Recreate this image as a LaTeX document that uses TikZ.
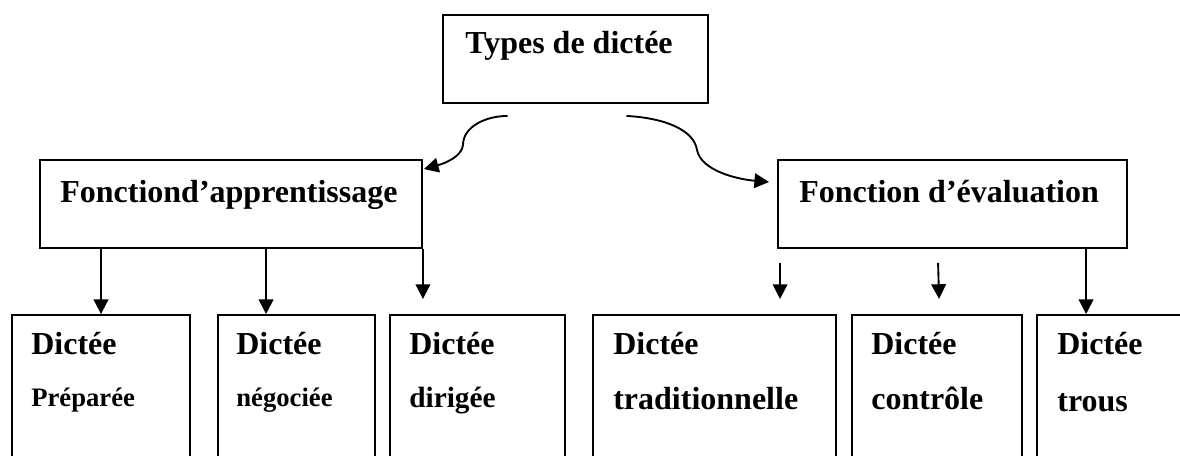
\documentclass[tikz,border=0pt]{standalone}
\usepackage{fontspec}
\setmainfont{Liberation Serif}
\usetikzlibrary{arrows.meta,calc,fit}
\begin{document}
\begin{tikzpicture}[x=0.75pt,y=-0.75pt,
  box/.style={draw,line width=1.4pt,rectangle,inner sep=0pt},
  arr/.style={line width=1.4pt,-{Triangle[length=11pt,width=11pt]}},
  big/.style={font=\bfseries\fontsize{24}{28}\selectfont,inner sep=0pt,anchor=base west},
  mid/.style={font=\bfseries\fontsize{22}{26}\selectfont,inner sep=0pt,anchor=base west},
  small/.style={font=\bfseries\fontsize{20}{24}\selectfont,inner sep=0pt,anchor=base west}]
\clip (0,0) rectangle (1180,455);
% boxes
\node[box,fit={(443,15) (708,103)}] (top) {};
\node[box,fit={(40,160) (422,248)}] (fa) {};
\node[box,fit={(778,160) (1127,248)}] (fe) {};
\node[box,fit={(12,315) (190,480)}] (b1) {};
\node[box,fit={(218,315) (375,480)}] (b2) {};
\node[box,fit={(390,315) (565,480)}] (b3) {};
\node[box,fit={(593,315) (836,480)}] (b4) {};
\node[box,fit={(852,315) (1022,480)}] (b5) {};
\node[box,fit={(1037,315) (1210,480)}] (b6) {};
% texts
\node[big] (ttop) at ($(top.north west)+(23,39)$) {Types de dictée};
\node[big] (tfa) at ($(fa.north west)+(21,43)$) {Fonctiond’apprentissage};
\node[big] (tfe) at ($(fe.north west)+(22,43)$) {Fonction d’évaluation};
\node[big] (t1a) at ($(b1.north west)+(20,40)$) {Dictée};
\node[small] (t1b) at ($(b1.north west)+(20,92)$) {Préparée};
\node[big] (t2a) at ($(b2.north west)+(19,40)$) {Dictée};
\node[small] (t2b) at ($(b2.north west)+(19,92)$) {négociée};
\node[big] (t3a) at ($(b3.north west)+(20,40)$) {Dictée};
\node[mid] (t3b) at ($(b3.north west)+(20,93)$) {dirigée};
\node[big] (t4a) at ($(b4.north west)+(21,40)$) {Dictée};
\node[big] (t4b) at ($(b4.north west)+(21,95)$) {traditionnelle};
\node[big] (t5a) at ($(b5.north west)+(20,40)$) {Dictée};
\node[big] (t5b) at ($(b5.north west)+(20,95)$) {contrôle};
\node[big] (t6a) at ($(b6.north west)+(21,40)$) {Dictée};
\node[big] (t6b) at ($(b6.north west)+(21,97)$) {trous};
% curved arrows
\draw[arr] ($(top.south)+(-68,12)$) .. controls (485,116) and (463,127) .. (463,145)
  .. controls (462,156) and (446,163) .. ($(fa.north east)+(1,10)$);
\draw[arr] ($(top.south)+(51,12)$) .. controls (665,118) and (694,130) .. (697,150)
  .. controls (701,170) and (735,179) .. ($(fe.west)+(-8,-22)$);
% vertical arrows
\coordinate (t2) at ($(b2.north west)+(49,0)$);
\draw[arr] (fa.south -| b1.north) -- (b1.north);
\draw[arr] (fa.south -| t2) -- (t2);
\draw[arr] (fa.south east) -- ++(0,50);
\draw[arr] ($(fe.south west)+(3,14)$) -- ++(0,36);
\draw[arr] ($(fe.south west)+(161,14)$) -- ++(1,36);
\coordinate (t6) at ($(fe.south west)+(309,0)$);
\draw[arr] (t6) -- (t6 |- b6.north);
\end{tikzpicture}
\end{document}
